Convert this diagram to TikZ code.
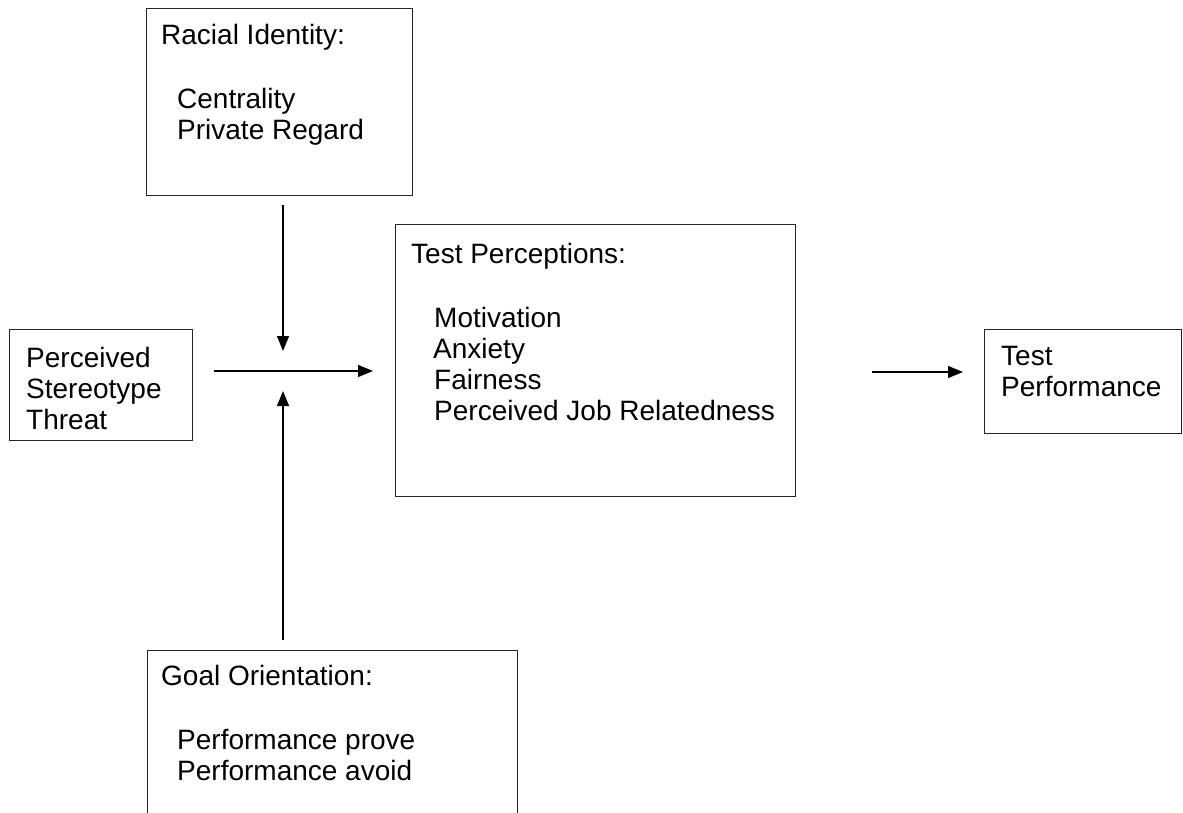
\documentclass[tikz,border=0pt]{standalone}
\usepackage{fontspec}
\setmainfont{Liberation Sans}
\usetikzlibrary{arrows.meta,calc}
\begin{document}
\begin{tikzpicture}[x=1pt,y=-1pt,
  box/.style={draw=black!85, line width=1.4pt, rectangle, inner sep=0pt, anchor=north west},
  txt/.style={anchor=north west, inner sep=0pt, align=left, font=\fontsize{28}{31}\selectfont},
  arr/.style={line width=1.3pt, -{Triangle[length=15pt,width=12pt]}}]
\useasboundingbox[fill=white] (0,0) rectangle (1183,813);

% boxes
\node[box, minimum width=266pt, minimum height=187pt] (rib) at (146,8) {};
\node[box, minimum width=183pt, minimum height=111pt] (pstb) at (9,329) {};
\node[box, minimum width=400pt, minimum height=272pt] (tpb) at (395,224) {};
\node[box, minimum width=197pt, minimum height=104pt] (tpfb) at (984,329) {};
\node[box, minimum width=370pt, minimum height=166pt] (gob) at (147,650) {};

% texts
\node[txt] (rit) at (161,24) {Racial Identity:\\[33pt]\hspace*{16pt}Centrality\\\hspace*{16pt}Private Regard};
\node[txt] (pstt) at (26,347) {Perceived\\Stereotype\\Threat};
\node[txt] (tpt) at (411,243) {Test Perceptions:\\[33pt]\hspace*{23pt}Motivation\\\hspace*{22pt}Anxiety\\\hspace*{23pt}Fairness\\\hspace*{23pt}Perceived Job Relatedness};
\node[txt] (tpft) at (1001,346) {Test\\Performance};
\node[txt] (got) at (161,665) {Goal Orientation:\\[33pt]\hspace*{16pt}Performance prove\\\hspace*{16pt}Performance avoid};

% arrows
\coordinate (a1s) at (283,205); \coordinate (a1e) at (283,351);
\coordinate (a2s) at (214,371); \coordinate (a2e) at (373,371);
\coordinate (a3s) at (283,640); \coordinate (a3e) at (283,391);
\coordinate (a4s) at (872,372); \coordinate (a4e) at (963,372);
\draw[arr] (a1s) -- (a1e);
\draw[arr] (a2s) -- (a2e);
\draw[arr] (a3s) -- (a3e);
\draw[arr] (a4s) -- (a4e);
\end{tikzpicture}
\end{document}
